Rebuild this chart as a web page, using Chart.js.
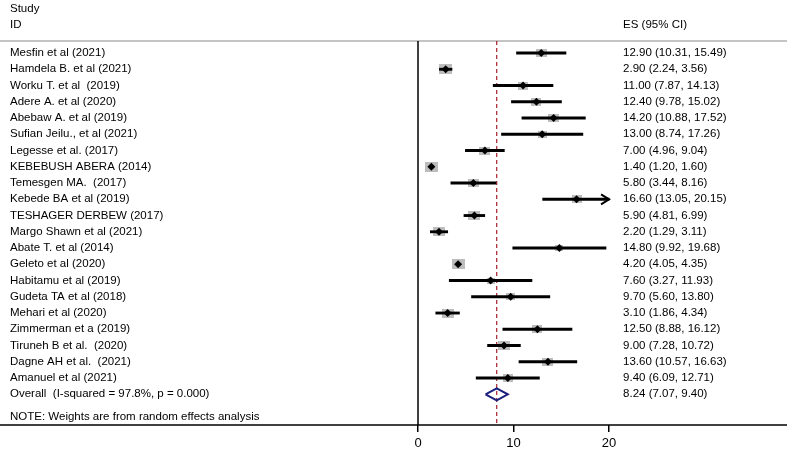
<!DOCTYPE html>
<html>
<head>
<meta charset="utf-8">
<script src="https://cdn.jsdelivr.net/npm/chart.js@4"></script>
<style>
  body { margin: 0; background: #fff; }
  canvas { display: block; }
</style>
</head>
<body>
<canvas id="forest" width="787" height="451"></canvas>
<script>
// study data
var studies = [
  "Mesfin et al (2021)", "Hamdela B. et al (2021)", "Worku T. et al  (2019)",
  "Adere A. et al (2020)", "Abebaw A. et al (2019)", "Sufian Jeilu., et al (2021)",
  "Legesse et al. (2017)", "KEBEBUSH ABERA (2014)", "Temesgen MA.  (2017)",
  "Kebede BA et al (2019)", "TESHAGER DERBEW (2017)", "Margo Shawn et al (2021)",
  "Abate T. et al (2014)", "Geleto et al (2020)", "Habitamu et al (2019)",
  "Gudeta TA et al (2018)", "Mehari et al (2020)", "Zimmerman et a (2019)",
  "Tiruneh B et al.  (2020)", "Dagne AH et al.  (2021)", "Amanuel et al (2021)"
];
var es = [12.90, 2.90, 11.00, 12.40, 14.20, 13.00, 7.00, 1.40, 5.80, 16.60, 5.90,
          2.20, 14.80, 4.20, 7.60, 9.70, 3.10, 12.50, 9.00, 13.60, 9.40];
var lo = [10.31, 2.24, 7.87, 9.78, 10.88, 8.74, 4.96, 1.20, 3.44, 13.05, 4.81,
          1.29, 9.92, 4.05, 3.27, 5.60, 1.86, 8.88, 7.28, 10.57, 6.09];
var hi = [15.49, 3.56, 14.13, 15.02, 17.52, 17.26, 9.04, 1.60, 8.16, 20.15, 6.99,
          3.11, 19.68, 4.35, 11.93, 13.80, 4.34, 16.12, 10.72, 16.63, 12.71];
// approximate random-effects weights (%)
var weights = [5.0, 6.5, 4.2, 4.2, 4.6, 3.4, 4.6, 6.3, 5.0, 4.2, 6.0,
               6.0, 2.3, 7.0, 2.7, 3.4, 6.0, 4.2, 5.5, 5.0, 4.2];

var pooled = [8.24, 7.07, 9.40];
var overallLabel = "Overall  (I-squared = 97.8%, p = 0.000)";
var noteLabel = "NOTE: Weights are from random effects analysis";
var xTicks = [0, 10, 20];
var ciLimit = 20;

var FONT = '"Liberation Sans", Arial, sans-serif';
var yMin = 0.26, yMax = 23.89;
var overallRow = studies.length + 1;

var fmt = function(v) { return v.toFixed(2); };

// grey weight boxes as little canvases so they can be non-square
var boxImgs = weights.map(function(w) {
  var bw = Math.round(5.0 * Math.sqrt(w));
  var bh = Math.round(bw * 0.75);
  var c = document.createElement('canvas');
  c.width = bw; c.height = bh;
  var g = c.getContext('2d');
  g.fillStyle = '#bdbdbd';
  g.fillRect(0, 0, bw, bh);
  return c;
});

var ciData = [], boxData = [], pointData = [];
for (var i = 0; i < studies.length; i++) {
  ciData.push({ x: [lo[i], Math.min(hi[i], ciLimit)], y: i + 1 });
  boxData.push({ x: es[i], y: i + 1 });
  pointData.push({ x: es[i], y: i + 1 });
}

var diamondData = [
  { x: pooled[1], y: overallRow },
  { x: pooled[0], y: overallRow - 0.37 },
  { x: pooled[2], y: overallRow },
  { x: pooled[0], y: overallRow + 0.37 },
  { x: pooled[1], y: overallRow }
];

var forestText = {
  id: 'forestText',
  beforeDatasetsDraw: function(chart) {
    var ctx = chart.ctx, xs = chart.scales.x, a = chart.chartArea;
    ctx.save();
    // grey rule under header
    ctx.strokeStyle = '#c4c4c4';
    ctx.lineWidth = 2;
    ctx.beginPath();
    ctx.moveTo(0, a.top); ctx.lineTo(chart.width, a.top);
    ctx.stroke();
    // null line at 0
    ctx.strokeStyle = '#000';
    ctx.lineWidth = 1.5;
    ctx.beginPath();
    ctx.moveTo(xs.getPixelForValue(0), a.top);
    ctx.lineTo(xs.getPixelForValue(0), a.bottom);
    ctx.stroke();
    // pooled estimate dashed line
    ctx.strokeStyle = '#a3202c';
    ctx.lineWidth = 1.2;
    ctx.setLineDash([4, 3]);
    ctx.beginPath();
    ctx.moveTo(xs.getPixelForValue(pooled[0]), a.top);
    ctx.lineTo(xs.getPixelForValue(pooled[0]), a.bottom);
    ctx.stroke();
    ctx.restore();
  },
  afterDatasetsDraw: function(chart) {
    var ctx = chart.ctx, xs = chart.scales.x, ys = chart.scales.y, a = chart.chartArea;
    ctx.save();
    // arrows for intervals running past the limit
    ctx.strokeStyle = '#000';
    ctx.lineWidth = 2;
    for (var i = 0; i < studies.length; i++) {
      if (hi[i] > ciLimit) {
        var px = xs.getPixelForValue(ciLimit), py = ys.getPixelForValue(i + 1);
        ctx.beginPath();
        ctx.moveTo(px - 8, py - 5);
        ctx.lineTo(px, py);
        ctx.lineTo(px - 8, py + 5);
        ctx.stroke();
      }
    }
    // bottom axis line across the whole width
    ctx.lineWidth = 1.5;
    ctx.beginPath();
    ctx.moveTo(0, a.bottom); ctx.lineTo(chart.width, a.bottom);
    ctx.stroke();

    ctx.fillStyle = '#000';
    ctx.font = '11.5px ' + FONT;
    ctx.textBaseline = 'middle';
    ctx.textAlign = 'left';
    var left = 10;
    var right = xs.getPixelForValue(ciLimit) + 14;
    ctx.fillText('Study', left, ys.getPixelForValue(-1.72));
    ctx.fillText('ID', left, ys.getPixelForValue(-0.74));
    ctx.fillText('ES (95% CI)', right, ys.getPixelForValue(-0.74));
    for (var j = 0; j < studies.length; j++) {
      var y = ys.getPixelForValue(j + 1);
      ctx.fillText(studies[j], left, y);
      ctx.fillText(fmt(es[j]) + ' (' + fmt(lo[j]) + ', ' + fmt(hi[j]) + ')', right, y);
    }
    var yo = ys.getPixelForValue(overallRow);
    ctx.fillText(overallLabel, left, yo);
    ctx.fillText(fmt(pooled[0]) + ' (' + fmt(pooled[1]) + ', ' + fmt(pooled[2]) + ')', right, yo);
    ctx.fillText(noteLabel, left, ys.getPixelForValue(overallRow + 1.4));
    ctx.restore();
  }
};

new Chart(document.getElementById('forest'), {
  data: {
    datasets: [
      {
        type: 'scatter',
        data: boxData,
        pointStyle: function(c) { return boxImgs[c.dataIndex]; },
        pointRadius: 5,
        order: 4
      },
      {
        type: 'bar',
        indexAxis: 'y',
        data: ciData,
        backgroundColor: '#000',
        barThickness: 2.2,
        order: 3
      },
      {
        type: 'scatter',
        data: pointData,
        pointStyle: 'rectRot',
        pointRadius: 4,
        backgroundColor: '#000',
        borderColor: '#000',
        borderWidth: 0,
        order: 2
      },
      {
        type: 'scatter',
        data: diamondData,
        showLine: true,
        borderColor: '#1b1f7e',
        borderWidth: 2,
        pointRadius: 0,
        fill: false,
        order: 1
      }
    ]
  },
  options: {
    responsive: false,
    animation: false,
    devicePixelRatio: 1,
    layout: { padding: { left: 418, top: 41, right: 0, bottom: 0 } },
    plugins: { legend: { display: false }, tooltip: { enabled: false } },
    scales: {
      x: {
        type: 'linear',
        min: 0,
        max: 38,
        offset: false,
        afterBuildTicks: function(s) { s.ticks = xTicks.map(function(v) { return { value: v }; }); },
        afterFit: function(s) { s.height = 26; },
        border: { display: false },
        grid: { drawOnChartArea: false, drawTicks: true, tickLength: 7, color: '#000', lineWidth: 1.5 },
        ticks: { color: '#000', padding: 4, maxRotation: 0, font: { family: FONT, size: 13 } }
      },
      y: {
        type: 'linear',
        reverse: true,
        offset: false,
        min: yMin,
        max: yMax,
        display: false
      }
    }
  },
  plugins: [forestText]
});
</script>
</body>
</html>
